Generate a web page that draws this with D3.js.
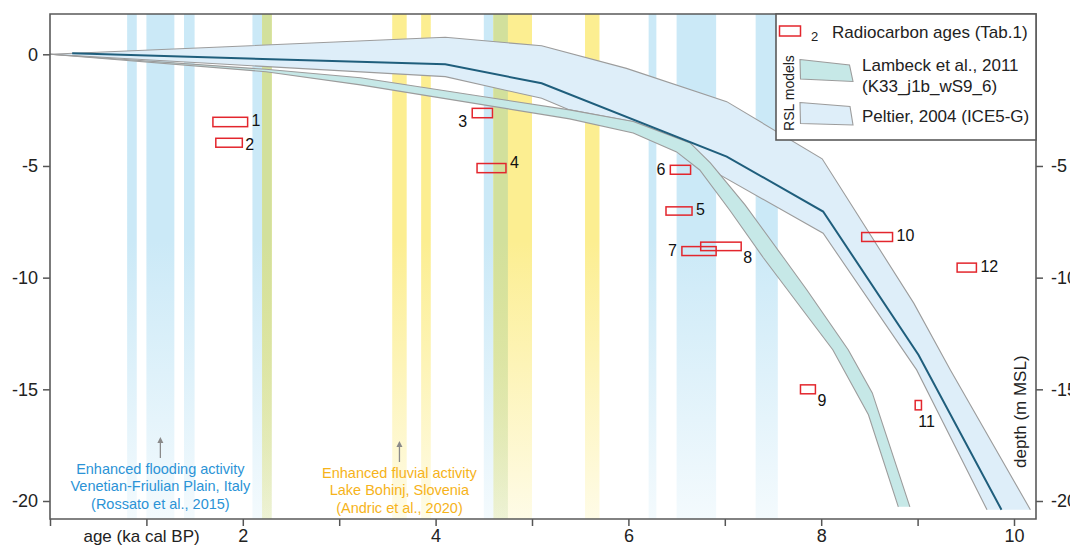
<!DOCTYPE html>
<html>
<head>
<meta charset="utf-8">
<script src="https://cdn.jsdelivr.net/npm/d3@7"></script>
<style>
body { margin: 0; background: #fff; }
svg { display: block; font-family: "Liberation Sans", Arial, sans-serif; }
</style>
</head>
<body>
<div class="figure"></div>
<script>
// periods of enhanced activity (ka cal BP)
const floodingPeriods = [[0.80, 0.90], [1.00, 1.29], [1.39, 1.50], [2.10, 2.30], [4.50, 4.75], [6.21, 6.29], [6.50, 6.91], [7.32, 7.55]];
const fluvialPeriods = [[2.20, 2.30], [3.55, 3.70], [3.85, 3.95], [4.60, 5.00], [5.55, 5.70]];

// radiocarbon ages (Tab.1): age range and depth range
const sampleIds = [1, 2, 3, 4, 5, 6, 7, 8, 9, 10, 11, 12];
const ageFrom = [1.69, 1.72, 4.38, 4.43, 6.39, 6.435, 6.555, 6.75, 7.785, 8.42, 8.975, 9.41];
const ageTo = [2.05, 1.995, 4.59, 4.73, 6.66, 6.645, 6.91, 7.17, 7.94, 8.74, 9.04, 9.61];
const depthTop = [-2.82, -3.76, -2.42, -4.89, -6.83, -4.97, -8.61, -8.41, -14.80, -7.98, -15.50, -9.35];
const depthBase = [-3.24, -4.16, -2.84, -5.30, -7.20, -5.37, -9.01, -8.79, -15.20, -8.38, -15.92, -9.75];

// RSL models [age, depth]
const lambeckUpper = [[0, 0], [2.24, -0.67], [3.22, -1.05], [5.39, -2.49], [6.05, -3.01], [6.64, -3.97], [6.85, -4.86], [7.21, -6.74], [7.61, -9.11], [7.85, -10.54], [8.28, -13.23], [8.53, -15.16], [8.92, -20.26]];
const lambeckLower = [[0, 0], [2.24, -0.78], [3.22, -1.37], [5.39, -2.89], [6.05, -3.52], [6.50, -4.37], [6.74, -5.18], [7.05, -6.97], [7.40, -9.11], [7.73, -11.00], [8.12, -13.23], [8.49, -16.14], [8.80, -20.26]];
const peltierUpper = [[0, 0], [4.10, 0.76], [5.10, 0.38], [5.98, -0.63], [7.02, -2.12], [8.01, -4.68], [8.96, -11.14], [9.34, -14.13], [10.17, -20.39]];
const peltierLower = [[0, 0], [4.10, -1.00], [5.10, -1.97], [5.39, -2.49], [6.05, -3.02], [6.64, -3.98], [6.95, -5.40], [8.02, -8.01], [8.99, -14.13], [9.72, -20.39]];
const peltierMean = [[0.23, 0.05], [4.10, -0.45], [5.10, -1.30], [7.02, -4.58], [8.02, -7.04], [9.01, -13.46], [9.87, -20.39]];

const ageTicks = d3.range(0, 11);
const ageLabels = [2, 4, 6, 8, 10];
const depthTicks = [0, -5, -10, -15, -20];

// label side for each sample number
const labelSide = ['r', 'r2', 'bl', 'tr', 'r', 'l', 'l', 'br', 'br', 'r', 'b', 'r'];

const floodText = ['Enhanced flooding activity', 'Venetian-Friulian Plain, Italy', '(Rossato et al., 2015)'];
const fluvialText = ['Enhanced fluvial activity', 'Lake Bohinj, Slovenia', '(Andric et al., 2020)'];

const blue = '#cbe9f7', yellow = '#fcee91', green = '#d2e09c';

const svg = d3.select('.figure').append('svg')
  .attr('width', 1070)
  .attr('height', 547);

const plot = {left: 50, right: 1036, top: 14, bottom: 519};

const x = d3.scaleLinear().domain([0, 10]).range([50, 1014]);
const y = d3.scaleLinear().domain([0, -20]).range([54.3, 501]);

const defs = svg.append('defs');
const makeGrad = (id, color) => {
  const g = defs.append('linearGradient').attr('id', id)
    .attr('x1', 0).attr('y1', 0).attr('x2', 0).attr('y2', 1);
  g.append('stop').attr('offset', 0).attr('stop-color', color).attr('stop-opacity', 1);
  g.append('stop').attr('offset', 0.45).attr('stop-color', color).attr('stop-opacity', 1);
  g.append('stop').attr('offset', 1).attr('stop-color', color).attr('stop-opacity', 0.22);
};
makeGrad('gBlue', blue);
makeGrad('gYellow', yellow);
makeGrad('gGreen', green);

defs.append('clipPath').attr('id', 'plotClip')
  .append('rect')
  .attr('x', plot.left).attr('y', plot.top)
  .attr('width', plot.right - plot.left).attr('height', plot.bottom - plot.top);

// overlap of the two kinds of periods
const overlaps = [];
floodingPeriods.forEach(b => fluvialPeriods.forEach(f => {
  const a0 = Math.max(b[0], f[0]), a1 = Math.min(b[1], f[1]);
  if (a1 > a0) overlaps.push([a0, a1]);
}));

const graph = svg.append('g').attr('clip-path', 'url(#plotClip)');

const drawBands = (data, fill) => {
  graph.append('g').selectAll('rect')
    .data(data)
    .enter().append('rect')
      .attr('x', d => x(d[0]))
      .attr('width', d => x(d[1]) - x(d[0]))
      .attr('y', plot.top)
      .attr('height', plot.bottom - plot.top)
      .attr('fill', fill);
};
drawBands(floodingPeriods, 'url(#gBlue)');
drawBands(fluvialPeriods, 'url(#gYellow)');
drawBands(overlaps, 'url(#gGreen)');

const line = d3.line().x(d => x(d[0])).y(d => y(d[1]));

const envelope = (upper, lower, fill) => {
  graph.append('path')
    .attr('d', line(upper.concat(lower.slice().reverse())) + 'Z')
    .attr('fill', fill)
    .attr('stroke', 'none');
  [upper, lower].forEach(edge => {
    graph.append('path')
      .attr('d', line(edge))
      .attr('fill', 'none')
      .attr('stroke', '#9c9c9c')
      .attr('stroke-width', 1.1);
  });
};
envelope(peltierUpper, peltierLower, '#deeef9');
envelope(lambeckUpper, lambeckLower, '#c6e8e7');

graph.append('path')
  .attr('d', line(peltierMean))
  .attr('fill', 'none')
  .attr('stroke', '#1f5e7c')
  .attr('stroke-width', 2);

// radiocarbon boxes
const samples = sampleIds.map((id, i) => ({
  id, a0: ageFrom[i], a1: ageTo[i], d0: depthTop[i], d1: depthBase[i], side: labelSide[i]
}));

graph.append('g').selectAll('rect')
  .data(samples)
  .enter().append('rect')
    .attr('x', d => x(d.a0))
    .attr('y', d => y(d.d0))
    .attr('width', d => x(d.a1) - x(d.a0))
    .attr('height', d => y(d.d1) - y(d.d0))
    .attr('fill', 'none')
    .attr('stroke', '#e3262d')
    .attr('stroke-width', 1.5);

const labelPos = d => {
  const l = x(d.a0), r = x(d.a1), t = y(d.d0), b = y(d.d1), c = (t + b) / 2;
  switch (d.side) {
    case 'r': return [r + 4, c + 4, 'start'];
    case 'r2': return [r + 3, c + 7, 'start'];
    case 'tr': return [r + 4, c, 'start'];
    case 'l': return [l - 5, c + 5, 'end'];
    case 'bl': return [l - 5, c + 14, 'end'];
    case 'br': return [r + 2, c + 17, 'start'];
    case 'b': return [l + 3, b + 17, 'start'];
    default: return [r + 4, c + 5, 'start'];
  }
};

svg.append('g').selectAll('text')
  .data(samples)
  .enter().append('text')
    .attr('x', d => labelPos(d)[0])
    .attr('y', d => labelPos(d)[1])
    .attr('text-anchor', d => labelPos(d)[2])
    .attr('font-size', 16)
    .attr('fill', '#111')
    .text(d => d.id);

// annotations with arrows
const annotate = (period, lines, color, base) => {
  const cx = x((period[0] + period[1]) / 2);
  svg.append('line')
    .attr('x1', cx).attr('x2', cx)
    .attr('y1', base - 16).attr('y2', base - 32)
    .attr('stroke', '#8a8a8a').attr('stroke-width', 1.3);
  svg.append('path')
    .attr('d', `M${cx - 3},${base - 31} L${cx},${base - 37} L${cx + 3},${base - 31} Z`)
    .attr('fill', '#8a8a8a');
  svg.append('g').selectAll('text')
    .data(lines)
    .enter().append('text')
      .attr('x', cx)
      .attr('y', (d, i) => base + i * 17.4)
      .attr('text-anchor', 'middle')
      .attr('font-size', 14.5)
      .attr('fill', color)
      .text(d => d);
};
annotate(floodingPeriods[1], floodText, '#2b93d6', 474);
annotate(fluvialPeriods[1], fluvialText, '#f6b31a', 478);

// axes
const axisStyle = g => {
  g.select('.domain').remove();
  g.selectAll('.tick line').attr('stroke', '#555').attr('stroke-width', 1.5);
  g.selectAll('.tick text').attr('font-size', 18).attr('fill', '#222')
    .attr('font-family', '"Liberation Sans", Arial, sans-serif');
};

svg.append('g')
  .attr('transform', `translate(${plot.left},0)`)
  .call(d3.axisLeft(y).tickValues(depthTicks).tickSize(7).tickPadding(5).tickFormat(d => d))
  .call(axisStyle);

svg.append('g')
  .attr('transform', `translate(${plot.right},0)`)
  .call(d3.axisRight(y).tickValues(depthTicks.slice(1)).tickSize(7).tickPadding(8).tickFormat(d => d))
  .call(axisStyle);

const xAxisGroup = svg.append('g')
  .attr('transform', `translate(0,${plot.bottom})`)
  .call(d3.axisBottom(x).tickValues(ageTicks).tickSize(7)
    .tickFormat(d => ageLabels.includes(d) ? d : ''))
  .call(axisStyle);
xAxisGroup.selectAll('.tick text').attr('y', 23).attr('dy', null);

// frame
svg.append('path')
  .attr('d', `M${plot.left},${plot.top} V${plot.bottom} H${plot.right} V${plot.top} Z`)
  .attr('fill', 'none')
  .attr('stroke', '#5a5a5a')
  .attr('stroke-width', 1.6);

svg.append('text')
  .attr('x', x(0.95))
  .attr('y', 542)
  .attr('text-anchor', 'middle')
  .attr('font-size', 17)
  .attr('fill', '#222')
  .text('age (ka cal BP)');

svg.append('text')
  .attr('transform', `translate(1026, ${y(-16.0)}) rotate(-90)`)
  .attr('text-anchor', 'middle')
  .attr('font-size', 17)
  .attr('fill', '#222')
  .text('depth (m MSL)');

// legend
const legend = svg.append('g').attr('transform', 'translate(776,14)');
legend.append('rect')
  .attr('width', plot.right - 776)
  .attr('height', 126)
  .attr('fill', '#fff')
  .attr('stroke', '#5a5a5a')
  .attr('stroke-width', 1.6);
legend.append('rect')
  .attr('x', 3.5).attr('y', 12).attr('width', 21).attr('height', 10)
  .attr('fill', 'none').attr('stroke', '#e3262d').attr('stroke-width', 1.5);
legend.append('text').attr('x', 35).attr('y', 27).attr('font-size', 13).attr('fill', '#222').text('2');
legend.append('text').attr('x', 56).attr('y', 24).attr('font-size', 17).attr('fill', '#222').text('Radiocarbon ages (Tab.1)');
legend.append('text')
  .attr('transform', 'translate(18,79) rotate(-90)')
  .attr('text-anchor', 'middle')
  .attr('font-size', 14)
  .attr('fill', '#222')
  .text('RSL models');
legend.append('path')
  .attr('d', 'M24,45.5 L73.5,51 L77,67.5 L24.5,65 Z')
  .attr('fill', '#c6e8e7').attr('stroke', '#9c9c9c').attr('stroke-width', 1.1);
legend.append('path')
  .attr('d', 'M24,88.5 L74,92.5 L77,111 L24.5,109.5 Z')
  .attr('fill', '#deeef9').attr('stroke', '#9c9c9c').attr('stroke-width', 1.1);
legend.append('text').attr('x', 86).attr('y', 57).attr('font-size', 17).attr('fill', '#222').text('Lambeck et al., 2011');
legend.append('text').attr('x', 86).attr('y', 78).attr('font-size', 17).attr('fill', '#222').text('(K33_j1b_wS9_6)');
legend.append('text').attr('x', 86).attr('y', 108).attr('font-size', 17).attr('fill', '#222').text('Peltier, 2004 (ICE5-G)');
</script>
</body>
</html>
